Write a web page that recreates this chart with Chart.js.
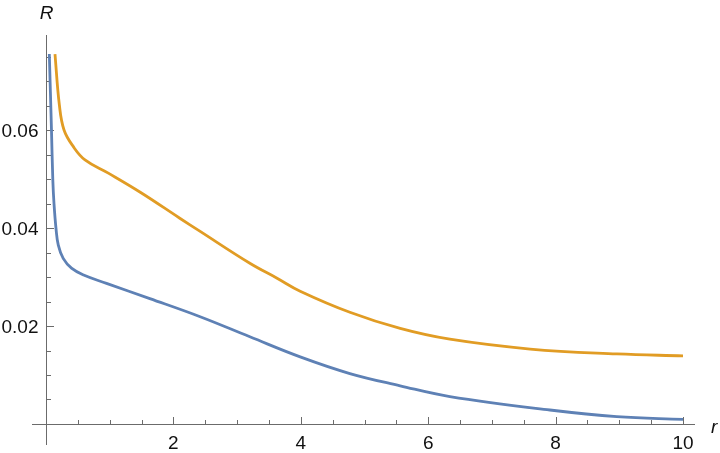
<!DOCTYPE html>
<html>
<head>
<meta charset="utf-8">
<script src="https://cdn.jsdelivr.net/npm/chart.js@4/dist/chart.umd.min.js"></script>
<style>
  body { margin: 0; background: #fff; }
  #wrap { width: 720px; height: 453px; }
</style>
</head>
<body>
<div id="wrap"><canvas id="myChart" width="720" height="453"></canvas></div>
<script>
// Blue curve (lower)
const blueR    = [0.052, 0.086, 0.107, 0.126, 0.157, 0.193, 0.27, 0.40, 0.59, 0.95, 1.63, 2.42, 3.2, 3.99, 4.77, 5.56, 6.34, 7.91, 8.96, 10];
const blueVals = [0.0755, 0.060, 0.0498, 0.0449, 0.0399, 0.0365, 0.0338, 0.0318, 0.0304, 0.0287, 0.0256, 0.0219, 0.0178, 0.0137, 0.0103, 0.0078, 0.0056, 0.00286, 0.0015, 0.00095];

// Orange curve (upper)
const orangeR    = [0.141, 0.209, 0.283, 0.429, 0.612, 0.978, 1.48, 2.1, 2.42, 3.2, 3.62, 3.99, 4.77, 5.56, 6.34, 7.6, 8.96, 10];
const orangeVals = [0.0755, 0.0652, 0.060, 0.0566, 0.0539, 0.0512, 0.0473, 0.0420, 0.0393, 0.0328, 0.0298, 0.0271, 0.0228, 0.0195, 0.0173, 0.0153, 0.0143, 0.0139];

// Ticks
const xTicks = [2, 4, 6, 8, 10];
const xTickLabels = ['2', '4', '6', '8', '10'];
const yTicks = [0.02, 0.04, 0.06];
const yTickLabels = ['0.02', '0.04', '0.06'];
const xMinorStep = 0.5;
const yMinorStep = 0.005;

const toPoints = (xs, ys) => xs.map((x, i) => ({ x: x, y: ys[i] }));

// draws Mathematica-style axes crossing at the origin
const zeroAxes = {
    id: 'zeroAxes',
    beforeDatasetsDraw(chart) {
        const { ctx, chartArea, scales: { x, y } } = chart;
        const x0 = Math.round(x.getPixelForValue(0)) + 0.5;
        const y0 = Math.round(y.getPixelForValue(0)) + 0.5;
        ctx.save();
        ctx.strokeStyle = '#6b6b6b';
        ctx.lineWidth = 1;
        ctx.beginPath();
        ctx.moveTo(chartArea.left, y0);
        ctx.lineTo(chartArea.right, y0);
        ctx.moveTo(x0, chartArea.top);
        ctx.lineTo(x0, chartArea.bottom);

        // x ticks (minor + major)
        for (let v = xMinorStep; v <= x.max + 1e-9; v += xMinorStep) {
            const px = Math.round(x.getPixelForValue(v)) + 0.5;
            const major = xTicks.some(t => Math.abs(t - v) < 1e-6);
            ctx.moveTo(px, y0);
            ctx.lineTo(px, y0 - (major ? 7.5 : 4.5));
        }
        // y ticks
        for (let v = yMinorStep; v <= y.max + 1e-9; v += yMinorStep) {
            const py = Math.round(y.getPixelForValue(v)) + 0.5;
            const major = yTicks.some(t => Math.abs(t - v) < 1e-6);
            ctx.moveTo(x0, py);
            ctx.lineTo(x0 + (major ? 7.5 : 4.5), py);
        }
        ctx.stroke();

        // tick labels
        ctx.fillStyle = '#111';
        ctx.font = '19px "Liberation Sans", Arial, sans-serif';
        ctx.textAlign = 'center';
        ctx.textBaseline = 'alphabetic';
        xTicks.forEach((t, i) => {
            ctx.fillText(xTickLabels[i], x.getPixelForValue(t), y0 + 24);
        });
        ctx.textAlign = 'right';
        yTicks.forEach((t, i) => {
            ctx.fillText(yTickLabels[i], x0 - 8, y.getPixelForValue(t) + 7);
        });

        // axis names
        ctx.font = 'italic 19px "Liberation Sans", Arial, sans-serif';
        ctx.textAlign = 'center';
        ctx.fillText('R', x0, 19);
        ctx.textAlign = 'left';
        ctx.fillText('r', 711, y0 + 8);
        ctx.restore();
    }
};

const ctx1 = document.getElementById('myChart').getContext('2d');
const myChart = new Chart(ctx1, {
    type: 'scatter',
    data: {
        datasets: [{
            label: 'blue',
            data: toPoints(blueR, blueVals),
            showLine: true,
            borderColor: '#5e81b5',
            borderWidth: 2.8,
            pointRadius: 0,
            tension: 0.4
        }, {
            label: 'orange',
            data: toPoints(orangeR, orangeVals),
            showLine: true,
            borderColor: '#e19c24',
            borderWidth: 2.8,
            pointRadius: 0,
            tension: 0.4
        }]
    },
    options: {
        responsive: false,
        animation: false,
        devicePixelRatio: 1,
        layout: { padding: { left: 32, right: 25, top: 35, bottom: 8 } },
        plugins: { legend: { display: false }, tooltip: { enabled: false } },
        scales: {
            x: { type: 'linear', min: -0.2198, max: 10.188, display: false },
            y: { type: 'linear', min: -0.004286, max: 0.07939, display: false }
        }
    },
    plugins: [zeroAxes]
});
</script>
</body>
</html>
